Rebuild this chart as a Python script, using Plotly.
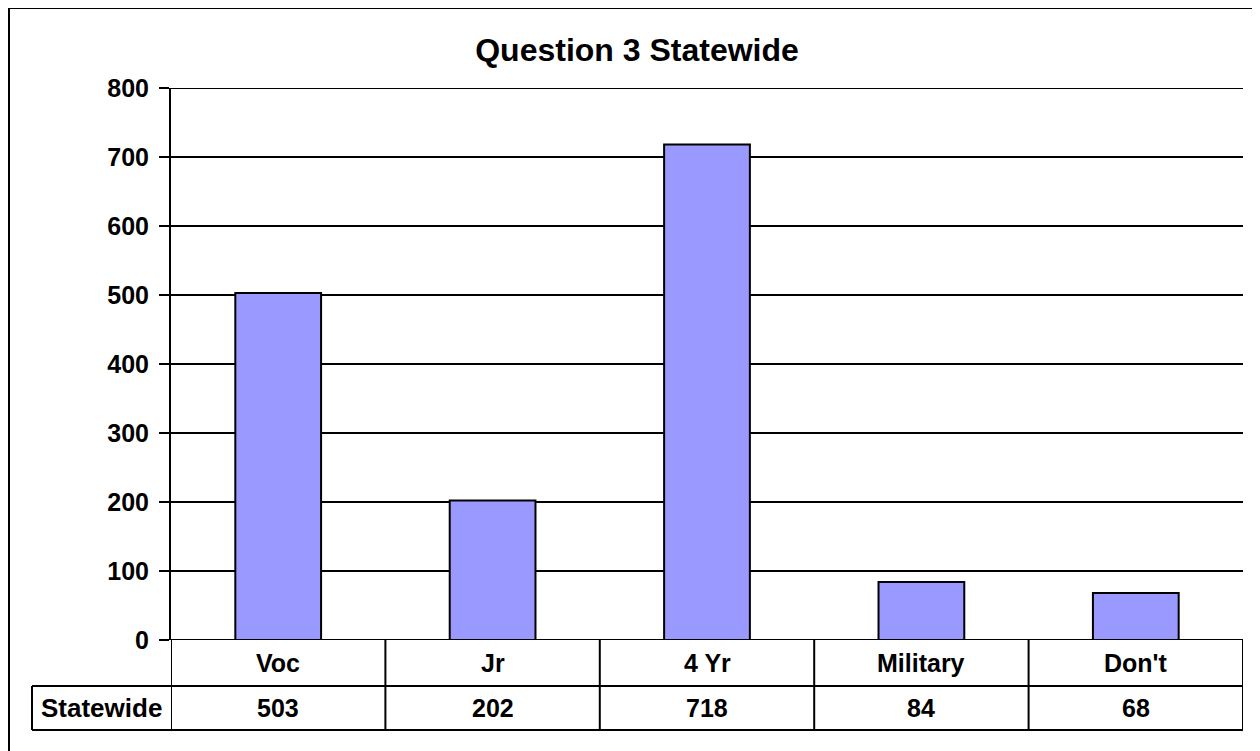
import plotly.graph_objects as go

categories = ["Voc", "Jr", "4 Yr", "Military", "Don't"]
values = [503, 202, 718, 84, 68]
series_name = "Statewide"
title = "Question 3 Statewide"
y_ticks = [0, 100, 200, 300, 400, 500, 600, 700, 800]

# page has an 8px body margin, so the figure is sized to fit the window
W, H = 1252, 743
L, R, T, B = 163, 17, 80, 111
pw = W - L - R
ph = H - T - B

def py(ypx):
    return (H - B - ypx) / ph

def px(xpx):
    return (xpx - L) / pw

FONT = "Liberation Sans, Arial, sans-serif"
LW = 2

fig = go.Figure()
fig.add_trace(go.Bar(
    x=categories, y=values, width=0.4,
    marker=dict(color="#9999FF", line=dict(color="black", width=2)),
    showlegend=False, hoverinfo="x+y",
))

shapes = []
# outer chart border
shapes.append(dict(type="rect", xref="paper", yref="paper",
                   x0=px(1), x1=px(1300), y0=py(800), y1=py(0),
                   line=dict(color="black", width=LW), layer="above"))
row1 = py(678)
row2 = py(722)
left_col = px(24)
# top of plot (800 gridline)
shapes.append(dict(type="line", xref="paper", yref="y", x0=0, x1=1, y0=y_ticks[-1], y1=y_ticks[-1],
                   line=dict(color="black", width=LW)))
# table horizontal lines
shapes.append(dict(type="line", xref="paper", yref="y", x0=0, x1=1, y0=0, y1=0,
                   line=dict(color="black", width=LW), layer="above"))
shapes.append(dict(type="line", xref="paper", yref="paper", x0=left_col, x1=1, y0=row1, y1=row1,
                   line=dict(color="black", width=LW)))
shapes.append(dict(type="line", xref="paper", yref="paper", x0=left_col, x1=1, y0=row2, y1=row2,
                   line=dict(color="black", width=LW)))
# vertical lines
shapes.append(dict(type="line", xref="paper", yref="paper", x0=left_col, x1=left_col, y0=row1, y1=row2,
                   line=dict(color="black", width=LW)))
for i in range(len(categories) + 1):
    xv = i - 0.5
    shapes.append(dict(type="line", xref="x", yref="paper", x0=xv, x1=xv, y0=0, y1=row2,
                       line=dict(color="black", width=LW)))

TFONT = dict(family=FONT, size=25, color="black", weight="bold")
annotations = []
for c, v in zip(categories, values):
    annotations.append(dict(x=c, xref="x", y=(0 + row1) / 2, yref="paper", text=c, showarrow=False,
                            xanchor="center", yanchor="middle", font=TFONT))
    annotations.append(dict(x=c, xref="x", y=(row1 + row2) / 2, yref="paper", text=str(v), showarrow=False,
                            xanchor="center", yanchor="middle", font=TFONT))
annotations.append(dict(x=left_col / 2, xref="paper", y=(row1 + row2) / 2, yref="paper",
                        text=series_name, showarrow=False, xanchor="center", yanchor="middle",
                        font=dict(family=FONT, size=26, color="black", weight="bold")))

fig.update_layout(
    width=W, height=H,
    margin=dict(l=L, r=R, t=T, b=B),
    paper_bgcolor="white", plot_bgcolor="white",
    title=dict(text=title, x=629 / W, xanchor="center", y=1 - 42 / H, yanchor="middle",
               font=dict(family=FONT, size=32, color="black", weight="bold")),
    xaxis=dict(type="category", range=[-0.5, len(categories) - 0.5], showticklabels=False,
               showgrid=False, zeroline=False, showline=False, ticks=""),
    yaxis=dict(range=[0, 800], tickvals=y_ticks, showgrid=True, gridcolor="black", gridwidth=LW,
               showline=True, linecolor="black", linewidth=LW, ticks="outside", ticklen=10,
               tickcolor="black", tickwidth=LW, zeroline=False, ticklabelstandoff=5,
               tickfont=dict(family=FONT, size=25, color="black", weight="bold")),
    shapes=shapes, annotations=annotations,
    bargap=0.6,
)

fig.write_html("out.html")
